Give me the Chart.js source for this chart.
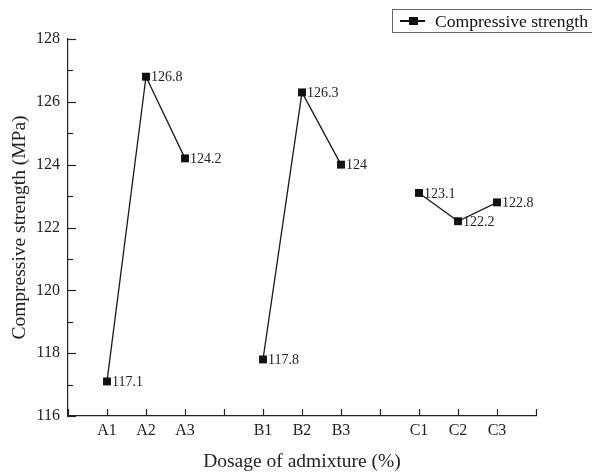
<!DOCTYPE html>
<html>
<head>
<meta charset="utf-8">
<script src="https://cdn.jsdelivr.net/npm/chart.js@4.4.1/dist/chart.umd.min.js"></script>
<style>
  html, body { margin: 0; padding: 0; background: #fff; }
  #wrap { width: 592px; height: 474px; position: relative; }
</style>
</head>
<body>
<div id="wrap"><canvas id="c"></canvas></div>
<script>
// Admixture groups; empty slots separate the A, B and C groups on the axis
const categories = ['A1', 'A2', 'A3', '', 'B1', 'B2', 'B3', '', 'C1', 'C2', 'C3'];
const strength = [117.1, 126.8, 124.2, null, 117.8, 126.3, 124, null, 123.1, 122.2, 122.8];
const yTicks = [116, 118, 120, 122, 124, 126, 128];
const seriesName = 'Compressive strength';

const points = categories.map((c, i) => ({ x: i + 1, y: strength[i] }));
const FONT = '"Liberation Serif", "Times New Roman", serif';

// Inward tick marks, point value labels and a framed legend
const decorations = {
  id: 'decorations',
  afterDraw(chart) {
    const ctx = chart.ctx;
    const xs = chart.scales.x, ys = chart.scales.y;
    const area = chart.chartArea;
    ctx.save();
    ctx.strokeStyle = '#222';
    ctx.lineWidth = 1.2;
    // x ticks
    for (let v = 0; v <= 12; v++) {
      const px = Math.round(xs.getPixelForValue(v)) + 0.5;
      ctx.beginPath();
      ctx.moveTo(px, area.bottom);
      ctx.lineTo(px, area.bottom - 7);
      ctx.stroke();
    }
    // y ticks, major and minor
    for (let v = yTicks[0]; v <= yTicks[yTicks.length - 1]; v++) {
      const py = Math.round(ys.getPixelForValue(v)) + 0.5;
      const len = (v % 2 === 0) ? 8 : 5;
      ctx.beginPath();
      ctx.moveTo(area.left, py);
      ctx.lineTo(area.left + len, py);
      ctx.stroke();
    }
    // value labels
    const meta = chart.getDatasetMeta(0);
    ctx.fillStyle = '#222';
    ctx.font = '14px ' + FONT;
    ctx.textAlign = 'left';
    ctx.textBaseline = 'middle';
    meta.data.forEach((el, i) => {
      const v = strength[i];
      if (v === null) return;
      ctx.fillText(String(v), el.x + 5, el.y + 1);
    });
    // legend
    const lx = 392, ly = 9, lh = 23;
    ctx.strokeStyle = '#666';
    ctx.lineWidth = 1;
    ctx.strokeRect(lx + 0.5, ly + 0.5, 220, lh);
    const cy = ly + lh / 2 + 0.5;
    ctx.strokeStyle = '#111';
    ctx.lineWidth = 2;
    ctx.beginPath();
    ctx.moveTo(400, cy);
    ctx.lineTo(425, cy);
    ctx.stroke();
    ctx.fillStyle = '#111';
    ctx.fillRect(409, cy - 4, 9, 8);
    ctx.font = '17.6px ' + FONT;
    ctx.fillText(seriesName, 435, cy + 1);
    ctx.restore();
  }
};

new Chart(document.getElementById('c'), {
  type: 'line',
  data: {
    datasets: [{
      label: seriesName,
      data: points,
      borderColor: '#1a1a1a',
      backgroundColor: '#111',
      borderWidth: 1.3,
      pointStyle: 'rect',
      pointRadius: 5.6,
      pointHoverRadius: 5.6,
      pointBorderWidth: 0,
      spanGaps: false,
      tension: 0
    }]
  },
  options: {
    responsive: true,
    maintainAspectRatio: false,
    animation: false,
    events: [],
    layout: { padding: { top: 39, right: 56, left: 0, bottom: 0 } },
    plugins: { legend: { display: false }, tooltip: { enabled: false } },
    scales: {
      x: {
        type: 'linear',
        min: 0, max: 12,
        afterFit(s) { s.height = 58; },
        afterBuildTicks(s) {
          s.ticks = [];
          for (let v = 0; v <= 12; v++) s.ticks.push({ value: v });
        },
        ticks: {
          color: '#222',
          font: { family: FONT, size: 16 },
          padding: 5,
          maxRotation: 0,
          autoSkip: false,
          callback: (v) => categories[v - 1] || ''
        },
        grid: { display: false, drawTicks: false },
        border: { display: true, color: '#222', width: 1.2 },
        title: {
          display: true,
          text: 'Dosage of admixture (%)',
          color: '#222',
          font: { family: FONT, size: 19.5 },
          padding: { top: 0, bottom: 0 }
        }
      },
      y: {
        min: 116, max: 128,
        afterFit(s) { s.width = 68; },
        afterBuildTicks(s) { s.ticks = yTicks.map(v => ({ value: v })); },
        ticks: {
          color: '#222',
          font: { family: FONT, size: 16 },
          padding: 8
        },
        grid: { display: false, drawTicks: false },
        border: { display: true, color: '#222', width: 1.2 },
        title: {
          display: true,
          text: 'Compressive strength (MPa)',
          color: '#222',
          font: { family: FONT, size: 19.5 },
          padding: { top: 8, bottom: 0 }
        }
      }
    }
  },
  plugins: [decorations]
});
</script>
</body>
</html>
